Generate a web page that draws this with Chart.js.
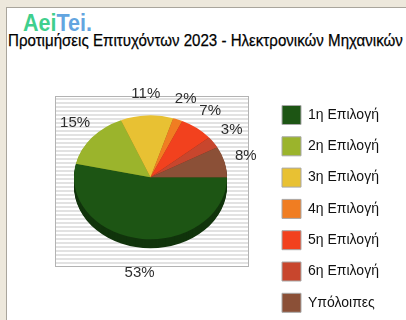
<!DOCTYPE html>
<html>
<head>
<meta charset="utf-8">
<script src="https://cdn.jsdelivr.net/npm/chart.js@4.4.0/dist/chart.umd.min.js"></script>
<style>
  html, body { margin: 0; padding: 0; width: 406px; height: 320px; overflow: hidden; background: #ede8dc; }
  #panel { position: absolute; left: 6px; top: 7px; right: 0; bottom: -2px; background: #fff;
           border-left: 1px solid #a9a59c; border-top: 1px solid #a9a59c; }
  #logo { position: absolute; left: 23px; top: 9px; font: bold 24px "Liberation Sans", Arial, sans-serif;
          white-space: nowrap; transform-origin: 0 0; }
  #logo .a { color: #3fcf8d; }
  #logo .b { color: #63a5e0; }
  #title { position: absolute; left: 8px; top: 33px; font: 17px/16px "Liberation Sans", Arial, sans-serif;
           color: #000; white-space: nowrap; transform-origin: 0 0; -webkit-text-stroke: 0.25px #000; }
  #wrap { position: absolute; left: 8px; top: 0; width: 398px; height: 350px; }
</style>
</head>
<body>
<div id="panel"></div>
<div id="logo"><span class="a">Aei</span><span class="b">Tei.</span></div>
<div id="title">Προτιμήσεις Επιτυχόντων 2023 - Ηλεκτρονικών Μηχανικών</div>
<div id="wrap"><canvas id="chart" width="398" height="350"></canvas></div>
<script>
// data
const categories = ['1η Επιλογή', '2η Επιλογή', '3η Επιλογή', '4η Επιλογή', '5η Επιλογή', '6η Επιλογή', 'Υπόλοιπες'];
const shares = [53, 15, 11, 2, 7, 3, 8];

const palette = ['#1d5514', '#9bb42c', '#e8c133', '#f07d22', '#f2411e', '#c8462d', '#8b5037'];
const FONT = '"Liberation Sans", Arial, sans-serif';
const SQUASH = 0.81;   // ellipse ratio of the pie top
const DEPTH = 9;       // thickness of the pie side
const GAP = 22;        // label distance from the rim

// squeeze the html texts to the widths in the picture
function fitWidth(id, w) {
  const el = document.getElementById(id);
  el.style.transform = `scaleX(${w / el.offsetWidth})`;
}
fitWidth('logo', 69);
fitWidth('title', 395);

function shade(hex, f) {
  const n = parseInt(hex.slice(1), 16);
  return `rgb(${((n >> 16) & 255) * f | 0},${((n >> 8) & 255) * f | 0},${(n & 255) * f | 0})`;
}

// legend geometry
const boxSize = 19, rowGap = 12.3, legendFont = 14;
const mctx = document.createElement('canvas').getContext('2d');
mctx.font = legendFont + 'px ' + FONT;
const textW = Math.max(...categories.map(c => mctx.measureText(c).width));
const legendW = rowGap + boxSize + legendFont / 2 + textW + 10;
const legendLeft = 261.7;

const pie3d = {
  id: 'pie3d',
  beforeDatasetsDraw(chart) {
    const arcs = chart.getDatasetMeta(0).data;
    const { x, y, outerRadius: r } = arcs[0];
    const ctx = chart.ctx;
    const ry = r * SQUASH;

    // striped plot frame
    const left = Math.round(x - r - 19), right = Math.round(x + r + 21);
    const top = Math.round(y - ry - 19), bottom = Math.round(y + ry + DEPTH + 18);
    ctx.save();
    ctx.fillStyle = '#fff';
    ctx.fillRect(left, top, right - left, bottom - top);
    ctx.fillStyle = '#e2e2e2';
    for (let yy = top + 2; yy < bottom - 1; yy += 4) ctx.fillRect(left, yy, right - left, 2);
    ctx.strokeStyle = '#b3b3b3';
    ctx.lineWidth = 1;
    ctx.strokeRect(left + 0.5, top + 0.5, right - left, bottom - top);
    ctx.restore();

    // squash to an ellipse, draw the side first
    ctx.save();
    ctx.translate(x, y); ctx.scale(1, SQUASH); ctx.translate(-x, -y);
    for (let d = DEPTH; d > 0; d--) {
      const yd = y + d / SQUASH;
      arcs.forEach((arc, i) => {
        ctx.beginPath();
        ctx.moveTo(x, yd);
        ctx.arc(x, yd, arc.outerRadius, arc.startAngle, arc.endAngle);
        ctx.closePath();
        ctx.fillStyle = shade(palette[i], 0.62);
        ctx.fill();
      });
    }
  },
  afterDatasetsDraw(chart) {
    const ctx = chart.ctx;
    ctx.restore();
    const arcs = chart.getDatasetMeta(0).data;
    ctx.save();
    ctx.font = '15px ' + FONT;
    ctx.fillStyle = '#2e2e2e';
    ctx.textAlign = 'center';
    ctx.textBaseline = 'middle';
    arcs.forEach((arc, i) => {
      const mid = (arc.startAngle + arc.endAngle) / 2;
      const s = Math.sin(mid);
      const lx = arc.x + (arc.outerRadius + GAP) * Math.cos(mid);
      const ly = arc.y + (arc.outerRadius * SQUASH + GAP) * s + (s > 0 ? DEPTH + 3 : 0);
      ctx.fillText(shares[i] + '%', lx, ly);
    });
    ctx.restore();
  }
};

Chart.defaults.font.family = FONT;

new Chart(document.getElementById('chart'), {
  type: 'pie',
  data: {
    labels: categories,
    datasets: [{
      data: shares,
      backgroundColor: palette,
      borderWidth: 0,
      clip: false
    }]
  },
  options: {
    responsive: false,
    animation: false,
    rotation: 90,
    radius: 76.5,
    layout: {
      padding: { left: 23.3, top: 20, right: 398 - legendLeft - legendW, bottom: 15.4 }
    },
    plugins: {
      tooltip: { enabled: false },
      legend: {
        position: 'right',
        align: 'start',
        title: { display: true, text: '', font: { size: 12 }, padding: { top: 58.8, bottom: 0 } },
        labels: {
          boxWidth: boxSize,
          boxHeight: boxSize,
          padding: rowGap,
          color: '#111',
          font: { size: legendFont, family: FONT },
          generateLabels(chart) {
            return Chart.overrides.doughnut.plugins.legend.labels.generateLabels(chart)
              .map(l => ({ ...l, strokeStyle: '#a8a8a8', lineWidth: 1 }));
          }
        }
      }
    }
  },
  plugins: [pie3d]
});
</script>
</body>
</html>
